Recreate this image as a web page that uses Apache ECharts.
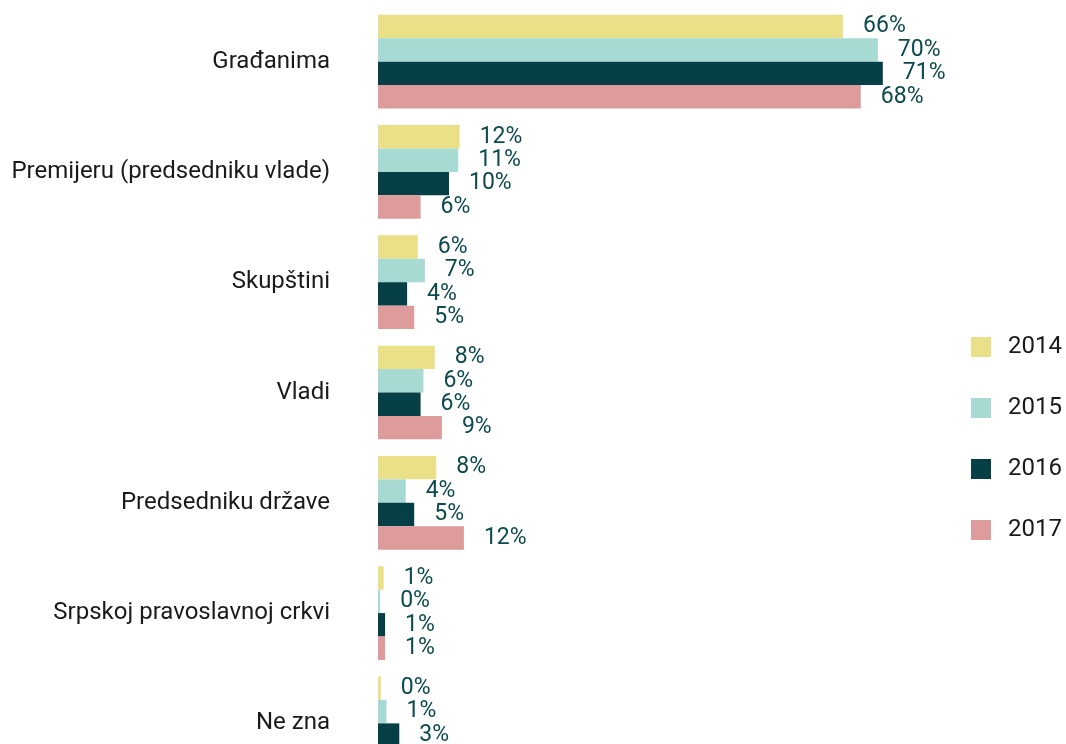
<!DOCTYPE html>
<html>
<head>
<meta charset="utf-8">
<script src="https://cdn.jsdelivr.net/npm/echarts@6/dist/echarts.min.js"></script>
<style>
  html, body { margin: 0; padding: 0; background: #fff; }
  #chart { width: 1066px; height: 744px; }
</style>
</head>
<body>
<div id="chart"></div>
<script>
const categories = ['Građanima', 'Premijeru (predsedniku vlade)', 'Skupštini', 'Vladi', 'Predsedniku države', 'Srpskoj pravoslavnoj crkvi', 'Ne zna']
const years = ['2014', '2015', '2016', '2017']
const v2014 = [65.5, 11.5, 5.6, 8.0, 8.2, 0.8, 0.4]
const v2015 = [70.4, 11.3, 6.6, 6.4, 3.9, 0.3, 1.2]
const v2016 = [71.1, 10.0, 4.1, 6.0, 5.1, 1.0, 3.0]
const v2017 = [68.0, 6.0, 5.1, 9.0, 12.1, 1.0, 2.0]
const colors = ['#e9e088', '#a6dad2', '#073f46', '#dd9c9b']

const font = 'Roboto, "Noto Sans", sans-serif'
const chart = echarts.init(document.getElementById('chart'))

function makeSeries(name, data, color) {
  return {
    name: name,
    type: 'bar',
    data: data,
    barGap: '0%',
    barCategoryGap: '15%',
    itemStyle: { color: color },
    label: {
      show: true,
      position: 'right',
      distance: 20,
      color: '#0d4a4f',
      fontFamily: font,
      fontSize: 23,
      formatter: (p) => Math.round(p.value) + '%'
    },
    animation: false
  }
}

chart.setOption({
  color: colors,
  legend: {
    orient: 'vertical',
    left: 971,
    top: 335,
    padding: 0,
    itemWidth: 20,
    itemHeight: 20,
    itemGap: 37,
    icon: 'rect',
    data: years,
    textStyle: { color: '#1a1a1a', fontFamily: font, fontSize: 24, padding: [0, 0, 0, 12] }
  },
  grid: {
    left: 378,
    top: 6.5,
    width: 568,
    height: 772,
    outerBoundsMode: 'none'
  },
  xAxis: {
    type: 'value',
    min: 0,
    max: 80,
    show: false
  },
  yAxis: {
    type: 'category',
    inverse: true,
    data: categories,
    axisLine: { show: false },
    axisTick: { show: false },
    axisLabel: { margin: 48, color: '#1a1a1a', fontFamily: font, fontSize: 24, padding: [6, 0, 0, 0] }
  },
  series: [
    makeSeries(years[0], v2014, colors[0]),
    makeSeries(years[1], v2015, colors[1]),
    makeSeries(years[2], v2016, colors[2]),
    makeSeries(years[3], v2017, colors[3])
  ]
})
</script>
</body>
</html>
